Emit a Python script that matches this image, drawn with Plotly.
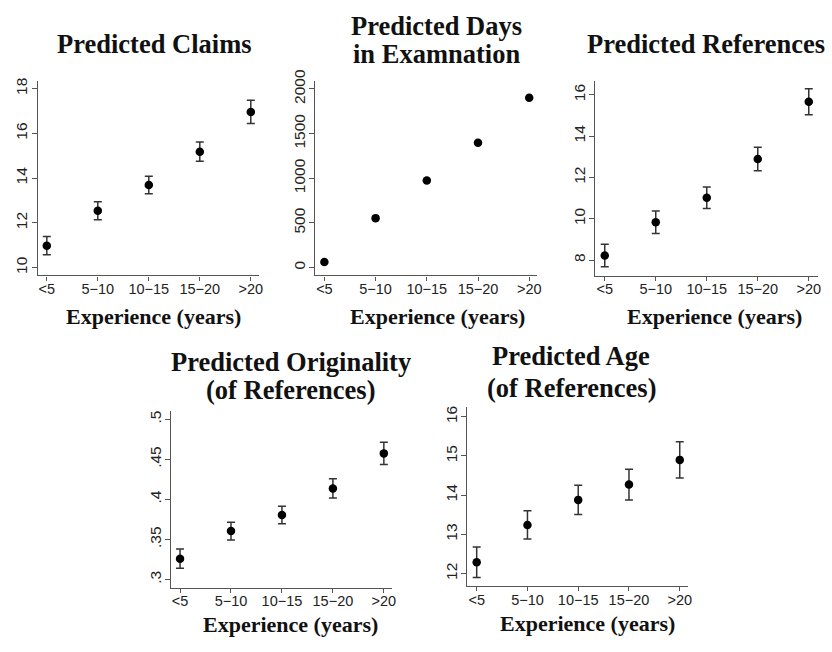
import plotly.graph_objects as go

# ---------------- data ----------------
categories = ["<5", "5\u221210", "10\u221215", "15\u221220", ">20"]

claims = [10.98, 12.54, 13.69, 15.18, 16.96]
claims_err = [0.41, 0.40, 0.39, 0.43, 0.52]

days = [62, 554, 976, 1398, 1901]

refs = [8.22, 9.83, 11.02, 12.89, 15.67]
refs_err = [0.55, 0.54, 0.52, 0.57, 0.63]

orig = [0.326, 0.3605, 0.3806, 0.4137, 0.4575]
orig_err = [0.012, 0.011, 0.011, 0.012, 0.014]

age = [12.29, 13.24, 13.88, 14.27, 14.90]
age_err = [0.39, 0.36, 0.37, 0.39, 0.46]

claims_ticks = [10, 12, 14, 16, 18]
days_ticks = [0, 500, 1000, 1500, 2000]
refs_ticks = [8, 10, 12, 14, 16]
orig_ticks = [0.3, 0.35, 0.4, 0.45, 0.5]
orig_ticktext = [".3", ".35", ".4", ".45", ".5"]
age_ticks = [12, 13, 14, 15, 16]

W, H = 832, 652
TITLE_FONT = dict(family="Liberation Serif, Times New Roman, serif", size=26.5, color="#111111")
XT_FONT = dict(family="Liberation Serif, Times New Roman, serif", size=22, color="#111111")
XTICK_FONT = dict(family="Liberation Sans, Arial, sans-serif", size=14.5, color="#222222")
YTICK_FONT = dict(family="Liberation Sans, Arial, sans-serif", size=15.5, color="#222222")
AX_COL = "#555555"

fig = go.Figure()
layout = dict(width=W, height=H, margin=dict(l=0, r=0, t=0, b=0),
              paper_bgcolor="white", plot_bgcolor="white", showlegend=False)
annotations = []

panels = [
    # values, errors, ticks, ticktext, px box (x0,x1,y0,y1), xrange, yrange
    (claims, claims_err, claims_ticks, None, (38, 260, 71, 269), (-0.176, 4.156), (9.648, 18.35)),
    (days, None, days_ticks, None, (316.7, 540, 70.7, 269), (-0.18, 4.16), (-88, 2095)),
    (refs, refs_err, refs_ticks, None, (598.3, 821.7, 70.7, 269.3), (-0.183, 4.176), (7.238, 16.695)),
    (orig, orig_err, orig_ticks, orig_ticktext, (171.7, 394.3, 406.7, 586.7), (-0.18, 4.168), (0.2897, 0.5106)),
    (age, age_err, age_ticks, None, (469.3, 691.7, 403.3, 585), (-0.19, 4.17), (11.68, 16.236)),
]

for i, (vals, errs, ticks, ttext, box, xr, yr) in enumerate(panels, start=1):
    sfx = "" if i == 1 else str(i)
    x0, x1, y0, y1 = box
    err = None
    if errs is not None:
        err = dict(type="data", array=errs, visible=True, color="#333333",
                   thickness=1.5, width=4)
    fig.add_trace(go.Scatter(
        x=categories, y=vals, mode="markers",
        marker=dict(color="black", size=8.5, line=dict(width=0)),
        error_y=err, xaxis="x" + sfx, yaxis="y" + sfx, hoverinfo="skip"))
    layout["xaxis" + sfx] = dict(
        domain=[x0 / W, x1 / W], anchor="y" + sfx, type="category",
        categoryorder="array", categoryarray=categories, range=list(xr),
        showline=True, linecolor=AX_COL, linewidth=1.3, mirror=False,
        ticks="outside", ticklen=4, tickcolor=AX_COL, tickwidth=1.2,
        tickfont=XTICK_FONT, ticklabelstandoff=-4,
        showgrid=False, zeroline=False, fixedrange=True)
    yax = dict(
        domain=[1 - y1 / H, 1 - y0 / H], anchor="x" + sfx, range=list(yr),
        showline=True, linecolor=AX_COL, linewidth=1.3,
        ticks="outside", ticklen=5, tickcolor=AX_COL, tickwidth=1.2,
        tickfont=YTICK_FONT, tickangle=-90, tickmode="array", tickvals=ticks,
        ticklabelstandoff=-2,
        showgrid=False, zeroline=False, fixedrange=True)
    if ttext is not None:
        yax["ticktext"] = ttext
    layout["yaxis" + sfx] = yax


def ann(text, xc, yc, font):
    annotations.append(dict(text=text, x=xc / W, y=1 - yc / H, xref="paper", yref="paper",
                            xanchor="center", yanchor="middle", showarrow=False,
                            font=font))


B = lambda s: "<b>" + s + "</b>"
ann(B("Predicted Claims"), 155.5, 34, TITLE_FONT)
ann(B("Predicted Days"), 439, 15, TITLE_FONT)
ann(B("in Examnation"), 439, 44, TITLE_FONT)
ann(B("Predicted References"), 709, 34, TITLE_FONT)
ann(B("Predicted Originality"), 292, 357, TITLE_FONT)
ann(B("(of References)"), 292, 385.5, TITLE_FONT)
ann(B("Predicted Age"), 574, 350.5, TITLE_FONT)
ann(B("(of References)"), 574, 383, TITLE_FONT)

ann(B("Experience (years)"), 154, 311, XT_FONT)
ann(B("Experience (years)"), 440, 311, XT_FONT)
ann(B("Experience (years)"), 718, 311, XT_FONT)
ann(B("Experience (years)"), 292, 624, XT_FONT)
ann(B("Experience (years)"), 590, 623, XT_FONT)

layout["annotations"] = annotations
fig.update_layout(**layout)
fig.write_html("out.html", config={"displayModeBar": False})
